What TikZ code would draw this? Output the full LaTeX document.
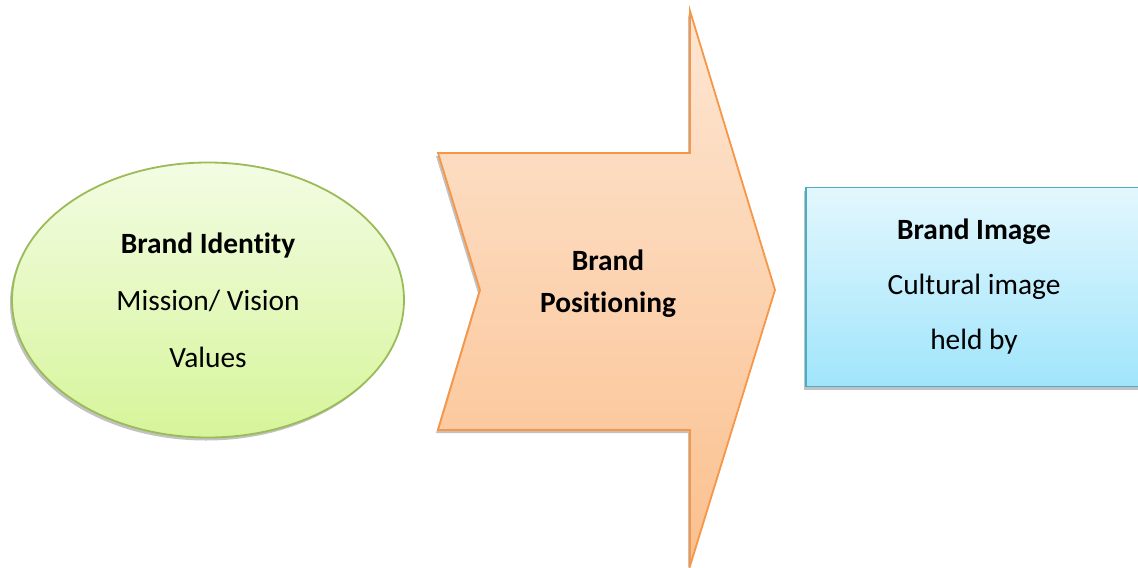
\documentclass[tikz,border=0pt]{standalone}
\usepackage{fontspec}
\setmainfont{Carlito}[Ligatures=NoCommon]
\usetikzlibrary{shapes.geometric,shadows}
\definecolor{idline}{HTML}{9BBB59}
\definecolor{idtop}{HTML}{F3FCE3}
\definecolor{idbot}{HTML}{D6F59A}
\definecolor{posline}{HTML}{F79646}
\definecolor{postop}{HTML}{FDE6D3}
\definecolor{posbot}{HTML}{FBC08E}
\definecolor{imgline}{HTML}{4BACC6}
\definecolor{imgtop}{HTML}{E3F7FD}
\definecolor{imgbot}{HTML}{A0E5FC}
\begin{document}
\begin{tikzpicture}[x=0.5pt, y=-0.5pt, font=\fontsize{14.7}{16}\selectfont,
	shapeshadow/.style={drop shadow={shadow xshift=-1pt, shadow yshift=-1.5pt, fill=black!40, opacity=.6}},
	label/.style={align=center, text=black}]
	\useasboundingbox (0,0) rectangle (1138,567);
	%identity
	\node[ellipse, draw=idline, line width=0.9pt, top color=idtop, bottom color=idbot,
		shapeshadow, minimum width=196pt, minimum height=137.5pt, label,
		font=\fontsize{14.7}{28.5}\selectfont] (identity) at (208,300)
		{\textbf{Brand Identity}\\Mission/ Vision\\Values};
	%positioning arrow
	\path[draw=posline, line width=0.9pt, line join=miter, top color=postop, bottom color=posbot, shapeshadow]
		(438,153) -- (690,153) -- (690,11) -- (775,290) -- (690,566)
		-- (690,430) -- (438,430) -- (480,290) -- cycle;
	\node[label, font=\fontsize{14.7}{21}\selectfont\bfseries] (positioning) at (608,284)
		{Brand\\Positioning};
	%image
	\node[rectangle, draw=imgline, line width=0.9pt, top color=imgtop, bottom color=imgbot,
		shapeshadow, minimum width=168pt, minimum height=99.5pt, label,
		font=\fontsize{14.7}{27.5}\selectfont] (image) at (974,287)
		{\textbf{Brand Image}\\Cultural image\\held by};
\end{tikzpicture}
\end{document}
